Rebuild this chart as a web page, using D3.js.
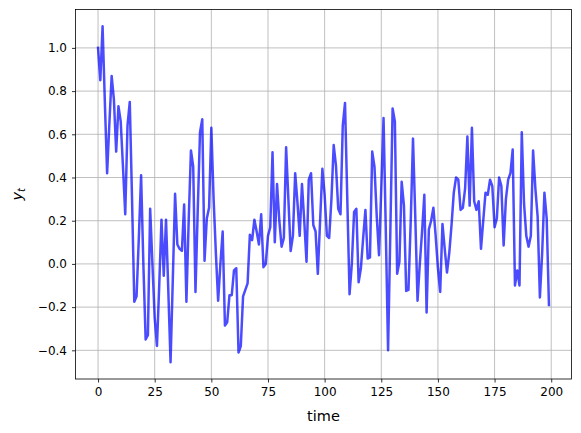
<!DOCTYPE html>
<html><head><meta charset="utf-8">
<script src="https://cdn.jsdelivr.net/npm/d3@7"></script>
<style>
body{margin:0;background:#fff;}
svg{display:block;font-family:"DejaVu Sans",sans-serif;}
</style></head>
<body><svg id="c" width="581" height="433"></svg>
<script>
const values = [
 1.00,0.85,1.10,0.75,0.42,0.65,0.87,0.76,0.52,0.73,
 0.66,0.45,0.23,0.64,0.75,0.30,-0.175,-0.15,0.12,0.41,
 0.00,-0.35,-0.33,0.255,0.00,-0.25,-0.38,-0.10,0.205,-0.055,
 0.205,-0.12,-0.455,-0.07,0.325,0.09,0.07,0.06,0.275,-0.175,
 0.20,0.525,0.45,-0.13,0.25,0.61,0.67,0.015,0.21,0.26,
 0.63,0.30,0.05,-0.17,0.00,0.15,-0.285,-0.27,-0.145,-0.145,
 -0.03,-0.02,-0.41,-0.38,-0.15,-0.12,-0.09,0.135,0.11,0.205,
 0.15,0.09,0.23,-0.015,0.00,0.13,0.17,0.517,0.10,0.37,
 0.20,0.08,0.12,0.54,0.30,0.06,0.13,0.42,0.285,0.13,
 0.37,0.20,0.01,0.39,0.42,0.18,0.15,-0.046,0.20,0.44,
 0.32,0.13,0.12,0.30,0.55,0.455,0.255,0.23,0.64,0.745,
 0.30,-0.14,0.00,0.24,0.255,-0.085,-0.02,0.12,0.25,0.025,
 0.03,0.52,0.45,0.22,0.04,0.35,0.675,0.15,-0.40,0.15,
 0.72,0.66,-0.046,0.01,0.38,0.27,-0.125,-0.12,0.20,0.58,
 0.22,-0.17,0.00,0.15,0.32,-0.225,0.16,0.20,0.26,0.13,
 -0.02,-0.13,0.185,0.07,-0.04,0.05,0.18,0.33,0.40,0.39,
 0.25,0.26,0.35,0.59,0.27,0.63,0.29,0.25,0.29,0.07,
 0.20,0.33,0.32,0.39,0.36,0.17,0.21,0.40,0.36,0.085,
 0.30,0.39,0.42,0.53,-0.10,-0.03,-0.10,0.61,0.28,0.13,
 0.08,0.13,0.525,0.35,0.22,-0.155,0.05,0.33,0.21,-0.19
];
const times = values.map((v,i)=>i);
const xTicks = [0,25,50,75,100,125,150,175,200];
const yTicks = [-0.4,-0.2,0.0,0.2,0.4,0.6,0.8,1.0];
const xLabel = "time";

const svg = d3.select("#c");
const L=75.5, R=571.5, T=9.5, B=379;
const tmin=d3.min(times), tmax=d3.max(times);
const vmin=d3.min(values), vmax=d3.max(values);
const mx=(tmax-tmin)*0.05, my=(vmax-vmin)*0.05;
const x=d3.scaleLinear().domain([tmin-mx,tmax+mx]).range([L,R]);
const y=d3.scaleLinear().domain([vmin-my,vmax+my]).range([B,T]);

// grid
const g=svg.append("g");
g.selectAll("line.gx").data(xTicks).enter().append("line")
 .attr("x1",d=>x(d)).attr("x2",d=>x(d)).attr("y1",T).attr("y2",B)
 .attr("stroke","#b0b0b0").attr("stroke-width",0.8);
g.selectAll("line.gy").data(yTicks).enter().append("line")
 .attr("x1",L).attr("x2",R).attr("y1",d=>y(d)).attr("y2",d=>y(d))
 .attr("stroke","#b0b0b0").attr("stroke-width",0.8);

// line
svg.append("path").datum(values)
 .attr("d",d3.line().x((d,i)=>x(times[i])).y(d=>y(d)))
 .attr("fill","none").attr("stroke","#0000ff").attr("stroke-opacity",0.7)
 .attr("stroke-width",2.5).attr("stroke-linejoin","round").attr("stroke-linecap","square");

// axes
const fmt=d=>(d<0?"\u2212":"")+Math.abs(d).toFixed(1);
const xa=svg.append("g").attr("transform",`translate(0,${B})`)
 .call(d3.axisBottom(x).tickValues(xTicks).tickSize(3.5).tickPadding(5).tickFormat(d3.format("d")));
const ya=svg.append("g").attr("transform",`translate(${L},0)`)
 .call(d3.axisLeft(y).tickValues(yTicks).tickSize(3.5).tickPadding(5).tickFormat(fmt));
[xa,ya].forEach(a=>{
 a.select(".domain").remove();
 a.selectAll("line").attr("stroke","#000").attr("stroke-width",0.8);
 a.selectAll("text").attr("font-family","DejaVu Sans").attr("font-size",12).attr("fill","#000");
});
svg.append("rect").attr("x",L).attr("y",T).attr("width",R-L).attr("height",B-T)
 .attr("fill","none").attr("stroke","#000").attr("stroke-width",0.8);

svg.append("text").attr("x",(L+R)/2).attr("y",421).attr("text-anchor","middle")
 .attr("font-size",14.5).attr("fill","#000").text(xLabel);
const yl=svg.append("text").attr("transform",`translate(22,${(T+B)/2}) rotate(-90)`)
 .attr("text-anchor","middle").attr("font-size",14.5).attr("fill","#000");
yl.append("tspan").attr("font-style","italic").text("y");
yl.append("tspan").attr("font-style","italic").attr("font-size",10).attr("dy",3).text("t");
</script></body></html>
